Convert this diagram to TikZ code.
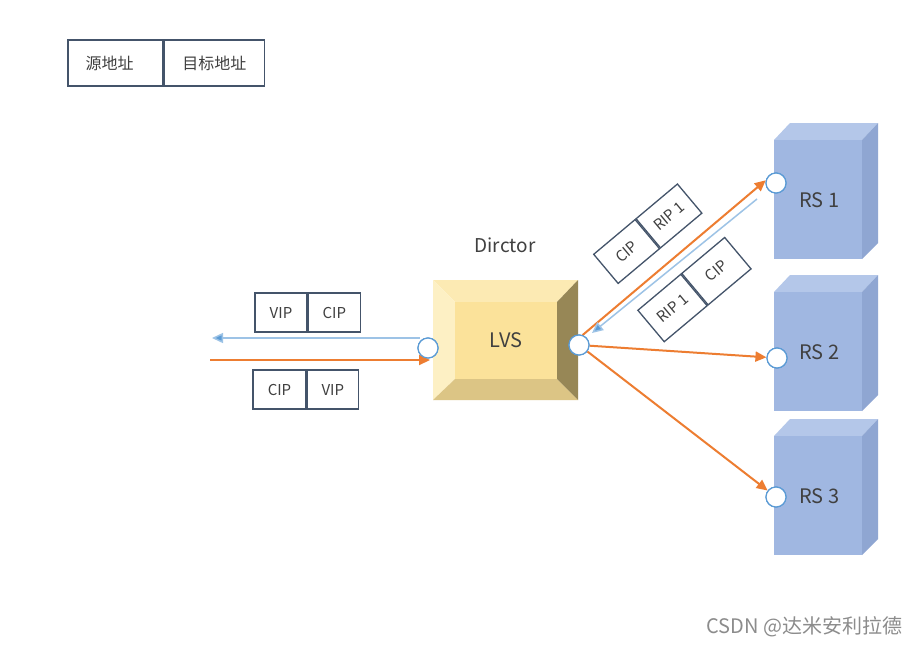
\documentclass[tikz,border=0pt]{standalone}
\usepackage{fontspec}
\setmainfont{Noto Sans CJK SC}
\usetikzlibrary{arrows.meta}
\definecolor{boxc}{HTML}{44546A}
\definecolor{txt}{HTML}{404040}
\definecolor{orng}{HTML}{ED7D31}
\definecolor{lblue}{HTML}{9DC3E6}
\definecolor{dblue}{HTML}{5B9BD5}
\definecolor{rsfront}{HTML}{A0B7E1}
\definecolor{rstop}{HTML}{B4C7E9}
\definecolor{rsside}{HTML}{8FA6D2}
\definecolor{lvsin}{HTML}{FBE29A}
\definecolor{lvstop}{HTML}{FCEAB3}
\definecolor{lvsleft}{HTML}{FDF0C4}
\definecolor{lvsbot}{HTML}{DCC585}
\definecolor{lvsright}{HTML}{978756}
\definecolor{wm}{HTML}{8C8C8C}
\tikzset{
  pkt/.style={draw=boxc, line width=1.3pt, inner sep=0pt, text=txt, font=\fontsize{15}{15}\selectfont, minimum height=39pt},
  leg/.style={draw=boxc, line width=1.3pt, inner sep=0pt, text=txt, font=\fontsize{16}{16}\selectfont, minimum height=46pt},
  port/.style={circle, draw=dblue, fill=white, line width=1.2pt, minimum size=20pt, inner sep=0pt},
  oarr/.style={draw=orng, line width=2pt, -{Triangle[length=11pt,width=10pt]}},
  barr/.style={draw=lblue, line width=1.5pt, -{Triangle[length=11pt,width=10pt,fill=dblue]}},
  lbl/.style={text=txt, font=\fontsize{20}{20}\selectfont},
}
\begin{document}
\begin{tikzpicture}[x=1pt,y=-1pt]
\useasboundingbox (0,0) rectangle (920,645);
\fill[white] (0,0) rectangle (920,645);
% legend
\node[leg, minimum width=95pt] (lsrc) at (115.5,63) {源地址\hspace*{12pt}};
\node[leg, minimum width=100pt, anchor=west] (ldst) at (lsrc.east) {目标地址};
% LVS director
\fill[lvstop] (433,280) -- (578,280) -- (557,302) -- (455,302) -- cycle;
\fill[lvsleft] (433,280) -- (455,302) -- (455,379) -- (433,400) -- cycle;
\fill[lvsbot] (433,400) -- (455,379) -- (557,379) -- (578,400) -- cycle;
\fill[lvsright] (578,280) -- (557,302) -- (557,379) -- (578,400) -- cycle;
\node[fill=lvsin, minimum width=102pt, minimum height=77pt, inner sep=0pt, lbl] (lvs) at (506,340.5) {LVS};
\node[lbl, font=\fontsize{19}{19}\selectfont] (dir) at (505,245) {Dirctor};
% RS boxes
\foreach \n/\t/\lab in {1/140/RS 1, 2/292/RS 2, 3/436/RS 3}{
  \fill[rstop] (774,\t) -- (790,\t-17) -- (878,\t-17) -- (862,\t) -- cycle;
  \fill[rsside] (862,\t) -- (878,\t-17) -- (878,\t+103) -- (862,\t+119) -- cycle;
  \node[fill=rsfront, minimum width=88pt, minimum height=119pt, inner sep=0pt, anchor=north west, lbl] (rs\n) at (774,\t) {};
  \node[lbl, anchor=west] (rsl\n) at (796,\t+60) {\lab};
}
% ports
\node[port] (pl) at (428,348) {};
\node[port] (pr) at (579,345) {};
\node[port] (p1) at (776,183) {};
\node[port] (p2) at (777,358) {};
\node[port] (p3) at (776,497) {};
% left arrows
\coordinate (lb) at (212,338);
\coordinate (lo) at (210,360);
\coordinate (lbs) at (420,338);
\draw[barr] (lbs) -- (lb);
\coordinate (loe) at (430,360);
\draw[oarr] (lo) -- (loe);
% right arrows
\draw[oarr] (pr.70) -- (p1.165);
\coordinate (bs) at (757,199);
\coordinate (be) at (592,333);
\draw[barr] (bs) -- (be);
\draw[oarr] (pr) -- (p2);
\draw[oarr] (pr) -- (p3);
% redraw ports on top
\node[port] at (pl) {};
\node[port] at (pr) {};
\node[port] at (p1) {};
\node[port] at (p2) {};
\node[port] at (p3) {};
% packet boxes left
\node[pkt, minimum width=52pt] (a1) at (281,312.5) {VIP};
\node[pkt, minimum width=52pt, anchor=west] (a2) at (a1.east) {CIP};
\node[pkt, minimum width=53pt] (b1) at (279.5,389.5) {CIP};
\node[pkt, minimum width=51pt, anchor=west] (b2) at (b1.east) {VIP};
% rotated packet boxes
\node[pkt, rotate=40, minimum width=54pt, minimum height=38pt] (c1) at (626.6,251.5) {CIP};
\node[pkt, rotate=40, minimum width=54pt, minimum height=38pt, anchor=west] (c2) at (c1.east) {RIP 1};
\node[pkt, rotate=40, minimum width=56pt, minimum height=41pt] (d1) at (672.5,308) {RIP 1};
\node[pkt, rotate=40, minimum width=56pt, minimum height=41pt, anchor=west] (d2) at (d1.east) {CIP};
% watermark
\node[text=wm, font=\fontsize{20}{20}\selectfont, anchor=east] (wmk) at (906,627) {CSDN @达米安利拉德};
\end{tikzpicture}
\end{document}
